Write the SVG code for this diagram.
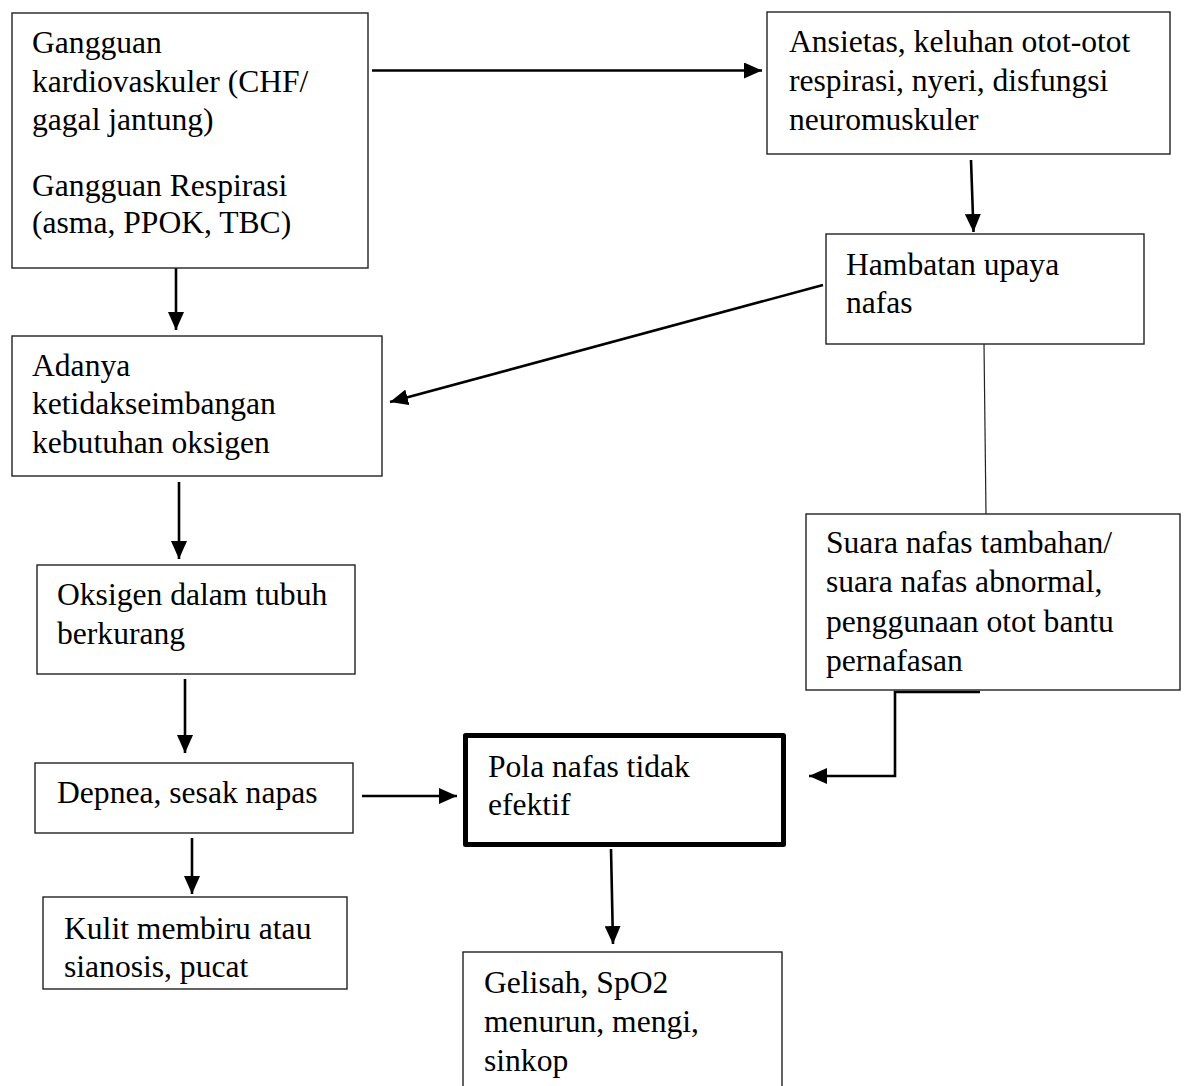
<svg xmlns="http://www.w3.org/2000/svg" width="1186" height="1086" viewBox="0 0 1186 1086">
<defs>
<style>
.box{fill:#fff;stroke:#222;stroke-width:1.4}
.bold{fill:#fff;stroke:#000;stroke-width:5;stroke-linejoin:round}
.t{font-family:"Liberation Serif","Times New Roman",serif;font-size:31.6px;fill:#000}
.c{fill:none;stroke:#000;stroke-width:2.6}
.thin{fill:none;stroke:#222;stroke-width:1.2}
</style>
<marker id="ah" markerUnits="userSpaceOnUse" markerWidth="20" markerHeight="16" refX="18" refY="8" orient="auto">
<path d="M0,0 L18,8 L0,16 Z" fill="#000"/>
</marker>
</defs>
<rect width="1186" height="1086" fill="#fff"/>
<g id="connectors">
<line class="c" x1="372" y1="70.5" x2="762" y2="70.5" marker-end="url(#ah)"/>
<line class="c" x1="971" y1="160" x2="973.5" y2="232" marker-end="url(#ah)"/>
<line class="c" x1="176" y1="268" x2="176" y2="330" marker-end="url(#ah)"/>
<line class="c" x1="823" y1="285" x2="390" y2="402" marker-end="url(#ah)"/>
<line class="thin" x1="984" y1="344" x2="986" y2="514"/>
<line class="c" x1="179" y1="482" x2="179" y2="559" marker-end="url(#ah)"/>
<line class="c" x1="185" y1="679" x2="185" y2="753" marker-end="url(#ah)"/>
<polyline class="c" points="980,692 895,692 895,776 809,776" marker-end="url(#ah)"/>
<line class="c" x1="362" y1="796" x2="457" y2="796" marker-end="url(#ah)"/>
<line class="c" x1="192" y1="838" x2="192" y2="894" marker-end="url(#ah)"/>
<line class="c" x1="611" y1="849" x2="613" y2="944" marker-end="url(#ah)"/>
</g>
<g id="n1">
<rect class="box" x="12" y="13" width="356" height="255"/>
<text class="t" x="32" y="53">Gangguan</text>
<text class="t" x="32" y="92">kardiovaskuler (CHF/</text>
<text class="t" x="32" y="130">gagal jantung)</text>
<text class="t" x="32" y="196">Gangguan Respirasi</text>
<text class="t" x="32" y="233">(asma, PPOK, TBC)</text>
</g>
<g id="n2">
<rect class="box" x="767" y="12" width="403" height="142"/>
<text class="t" x="789" y="52">Ansietas, keluhan otot-otot</text>
<text class="t" x="789" y="91">respirasi, nyeri, disfungsi</text>
<text class="t" x="789" y="130">neuromuskuler</text>
</g>
<g id="n3">
<rect class="box" x="826" y="234" width="318" height="110"/>
<text class="t" x="846" y="275">Hambatan upaya</text>
<text class="t" x="846" y="313">nafas</text>
</g>
<g id="n4">
<rect class="box" x="12" y="336" width="370" height="140"/>
<text class="t" x="32" y="376">Adanya</text>
<text class="t" x="32" y="414">ketidakseimbangan</text>
<text class="t" x="32" y="453">kebutuhan oksigen</text>
</g>
<g id="n5">
<rect class="box" x="806" y="514" width="374" height="176"/>
<text class="t" x="826" y="553">Suara nafas tambahan/</text>
<text class="t" x="826" y="592">suara nafas abnormal,</text>
<text class="t" x="826" y="632">penggunaan otot bantu</text>
<text class="t" x="826" y="671">pernafasan</text>
</g>
<g id="n6">
<rect class="box" x="37" y="565" width="318" height="109"/>
<text class="t" x="57" y="605">Oksigen dalam tubuh</text>
<text class="t" x="57" y="644">berkurang</text>
</g>
<g id="n7">
<rect class="box" x="35" y="763" width="318" height="70"/>
<text class="t" x="57" y="803">Depnea, sesak napas</text>
</g>
<g id="n8">
<rect class="bold" x="465.5" y="735.5" width="318" height="109"/>
<text class="t" x="488" y="777">Pola nafas tidak</text>
<text class="t" x="488" y="815">efektif</text>
</g>
<g id="n9">
<rect class="box" x="463" y="952" width="319" height="150"/>
<text class="t" x="484" y="993">Gelisah, SpO2</text>
<text class="t" x="484" y="1032">menurun, mengi,</text>
<text class="t" x="484" y="1071">sinkop</text>
</g>
<g id="n10">
<rect class="box" x="43" y="897" width="304" height="92"/>
<text class="t" x="64" y="939">Kulit membiru atau</text>
<text class="t" x="64" y="977">sianosis, pucat</text>
</g>
</svg>
